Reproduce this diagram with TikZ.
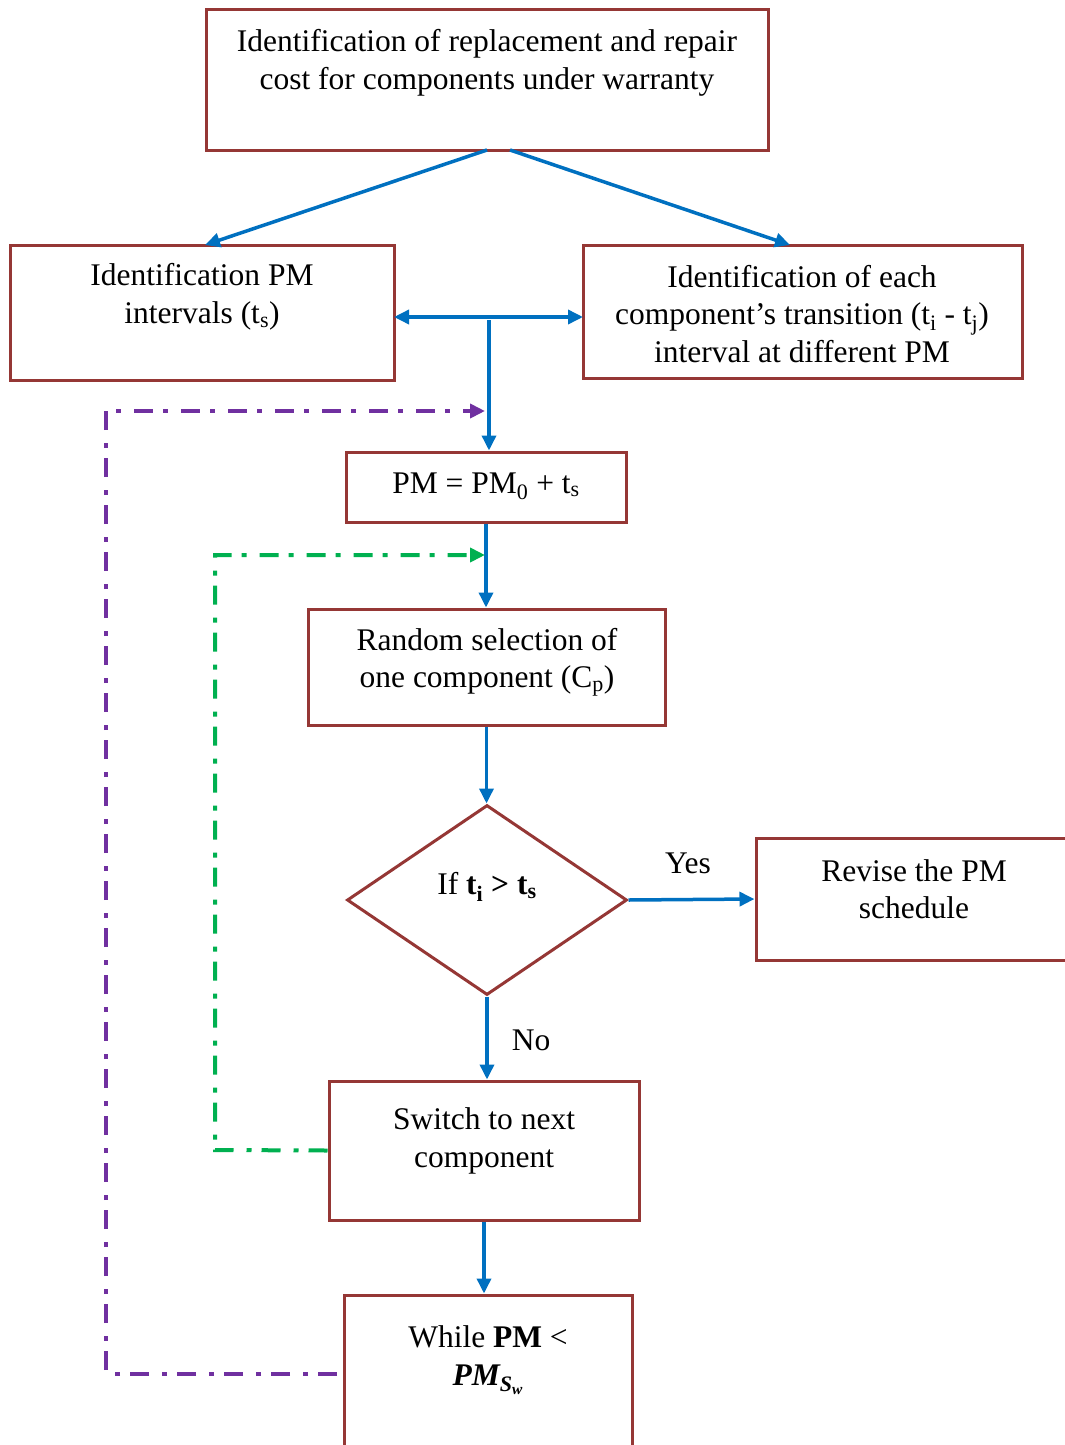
\documentclass[tikz,border=0pt]{standalone}
\usepackage{fontspec}
\setmainfont{Liberation Serif}
\usetikzlibrary{shapes.geometric,arrows.meta}

\definecolor{boxred}{RGB}{149,55,53}
\definecolor{flowblue}{RGB}{0,112,192}
\definecolor{loopviolet}{RGB}{112,48,160}
\definecolor{loopgreen}{RGB}{0,176,80}

\tikzset{
  stepbox/.style={draw=boxred, line width=3pt, inner sep=0pt, fill=white},
  decision/.style={diamond, draw=boxred, line width=3pt, inner sep=0pt, aspect=1.47},
  txt/.style={align=center, inner sep=0pt, font=\fontsize{31.5}{37.5}\selectfont},
  flow/.style={draw=flowblue, line width=3.5pt, -{Triangle[length=15pt,width=14pt]}},
  flowboth/.style={draw=flowblue, line width=3.5pt, {Triangle[length=15pt,width=14pt]}-{Triangle[length=15pt,width=14pt]}},
  dashdot/.style={line width=4pt, dash pattern=on 19pt off 10pt on 5pt off 13pt},
  outerloop/.style={dashdot, draw=loopviolet, -{Triangle[length=15pt,width=14pt]}},
  innerloop/.style={dashdot, draw=loopgreen, -{Triangle[length=15pt,width=14pt]}},
}

\begin{document}
\begin{tikzpicture}[x=1pt,y=-1pt]
\useasboundingbox (0,0) rectangle (1065,1445);
\clip (0,0) rectangle (1065,1445);

% boxes
\node[stepbox, minimum width=562pt, minimum height=140pt] (A) at (487,80) {};
\node[stepbox, minimum width=384pt, minimum height=135pt] (B) at (202,312.5) {};
\node[stepbox, minimum width=439pt, minimum height=133pt] (C) at (802.5,311.5) {};
\node[stepbox, minimum width=280pt, minimum height=70pt] (D) at (486,487) {};
\node[stepbox, minimum width=357pt, minimum height=116pt] (E) at (486.5,667) {};
\node[decision, minimum width=280pt, minimum height=190pt] (Q) at (487,900) {};
\node[stepbox, minimum width=320pt, minimum height=122pt] (F) at (916,899) {};
\node[stepbox, minimum width=310pt, minimum height=139pt] (G) at (484,1150.5) {};
\node[stepbox, minimum width=288pt, minimum height=170pt] (H) at (488,1380) {};

% box texts
\node[txt] (tA) at (487,63) {Identification of replacement and repair\\cost for components under warranty};
\node[txt] (tB) at (202,297) {Identification PM\\intervals (t\textsubscript{s})};
\node[txt] (tC) at (802,314) {Identification of each\\component’s transition (t\textsubscript{i} - t\textsubscript{j})\\interval at different PM};
\node[txt] (tD) at (486,486) {PM = PM\textsubscript{0} + t\textsubscript{s}};
\node[txt] (tE) at (487,662) {Random selection of\\one component (C\textsubscript{p})};
\node[txt] (tQ) at (487,887) {If \textbf{t\textsubscript{i} > t\textsubscript{s}}};
\node[txt] (tF) at (914,889) {Revise the PM\\schedule};
\node[txt] (tG) at (484,1141) {Switch to next\\component};
\node[txt] (tH) at (488,1360) {While \textbf{PM} <\\{\bfseries\itshape PM\textsubscript{S\textsubscript{w}}}};
\node[txt] (yes) at (688,863) {Yes};
\node[txt] (no) at (531,1040) {No};

% junction points
\coordinate (aL) at (487,150);
\coordinate (aR) at (510,150);
\coordinate (bT) at (205,245);
\coordinate (cT) at (790,245);
\coordinate (bE) at (394,317);
\coordinate (cW) at (583,317);
\coordinate (mid) at (489,320);
\coordinate (vTop) at (106,411);
\coordinate (vBot) at (106,1374);
\coordinate (hW) at (337,1374);
\coordinate (vEnd) at (485,411);
\coordinate (gTop) at (215,555);
\coordinate (gBot) at (215,1150);
\coordinate (gEnd) at (485,555);

% main flow
\draw[flow] (aL) -- (bT);
\draw[flow] (aR) -- (cT);
\draw[flowboth] (bE) -- (cW);
\draw[flow] (mid) -- (mid |- D.north);
\draw[flow] (D.south) -- (D.south |- E.north);
\draw[flow] (E.south) -- (E.south |- Q.north);
\draw[flow] (Q.east) -- (F.west);
\draw[flow] (Q.south) -- (Q.south |- G.north);
\draw[flow] (G.south) -- (G.south |- H.north);

% loops
\draw[innerloop] (G.west) -- (gBot) -- (gTop) -- (gEnd);
\draw[outerloop] (hW) -- (vBot) -- (vTop) -- (vEnd);
\end{tikzpicture}
\end{document}
